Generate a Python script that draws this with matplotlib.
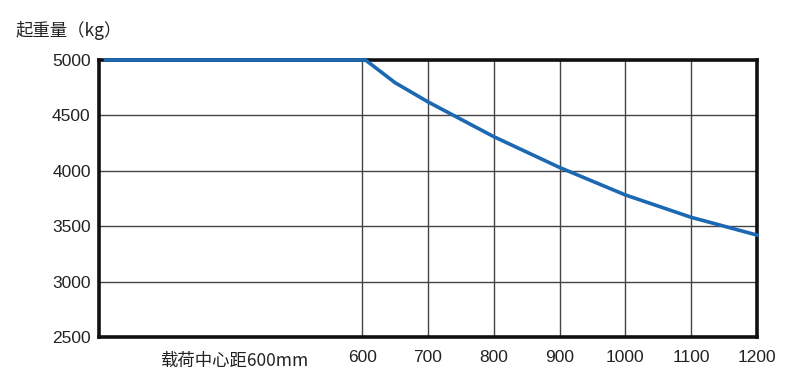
import matplotlib
matplotlib.use("Agg")
import matplotlib.pyplot as plt

plt.rcParams['font.family'] = ['Liberation Sans', 'Noto Sans CJK SC', 'DejaVu Sans']

# data
load_center = [210, 605, 650, 700, 750, 800, 900, 1000, 1100, 1200]
capacity = [5000, 5000, 4795, 4622, 4465, 4308, 4030, 3782, 3580, 3420]
x_ticks = [600, 700, 800, 900, 1000, 1100, 1200]
y_ticks = [2500, 3000, 3500, 4000, 4500, 5000]
x_note = "载荷中心距600mm"
y_title = "起重量（kg）"

fig = plt.figure(figsize=(7.9, 3.86), dpi=100)
ax = fig.add_axes([99/790, 1-337/386, (757-99)/790, (337-60)/386])

ax.set_xlim(200, 1200)
ax.set_ylim(2500, 5000)

for xv in x_ticks:
    ax.axvline(xv, color='#444444', lw=1.0, zorder=1)
for yv in y_ticks:
    ax.axhline(yv, color='#444444', lw=1.0, zorder=1)

ax.plot(load_center, capacity, color='#1c68b3', lw=2.6, zorder=3, clip_on=False,
        solid_joinstyle='round')

for s in ax.spines.values():
    s.set_linewidth(2.6)
    s.set_color('#111111')
    s.set_zorder(2)

ax.set_xticks(x_ticks)
ax.set_yticks(y_ticks)
ax.tick_params(length=0, labelsize=12.5, colors='#222222')
ax.tick_params(axis='x', pad=9)
ax.tick_params(axis='y', pad=6)

ax.text(405, -0.055, x_note, transform=ax.get_xaxis_transform(), ha='center', va='top',
        fontsize=12.5, color='#222222', family=['Noto Sans CJK SC', 'DejaVu Sans'])
fig.text(16/790, 1-30/386, y_title, ha='left', va='center', fontsize=12.5, color='#222222',
         family=['Noto Sans CJK SC', 'DejaVu Sans'])

fig.savefig('out.png', dpi=100, facecolor='white')
